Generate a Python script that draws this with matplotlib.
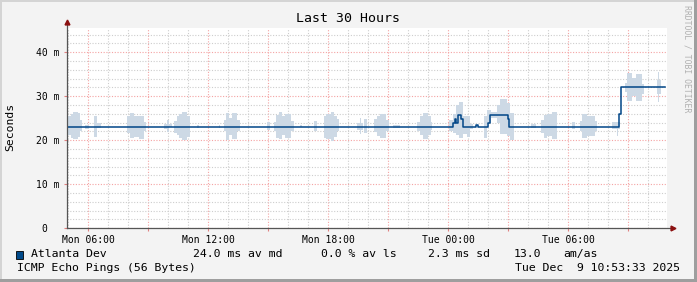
import matplotlib
matplotlib.use("Agg")
import matplotlib.pyplot as plt
import numpy as np
from matplotlib.ticker import MultipleLocator, FuncFormatter
from matplotlib.patches import Rectangle

plt.rcParams['font.family'] = ['DejaVu Sans Mono']

#-----------------------------------------
# data (hours since Mon 00:00, values in ms)
#-----------------------------------------
t_start = 4.92
t_end = 34.92

# median line (step, post)
line_t = [4.92, 24.25, 24.32, 24.40, 24.485, 24.62, 24.735, 25.385, 25.485,
          26.0, 26.07, 26.97, 27.05, 32.535, 32.635, 34.835]
line_v = [23.1, 24.0, 24.9, 24.0, 25.75, 24.8, 23.1, 23.4, 23.1,
          24.0, 25.75, 24.9, 23.1, 26.0, 32.0, 32.0]

# smoke: interval start, end, low, high
smoke_t0 = [4.92, 5.12, 5.25, 5.485, 5.585, 5.82, 6.285, 6.45,
            7.95, 8.07, 8.285, 8.535, 8.785, 9.785, 9.92, 10.035,
            10.285, 10.42, 10.535, 10.7, 10.92, 11.42, 12.535,
            12.785, 12.87, 13.035, 13.2, 13.45, 14.92,
            15.285, 15.37, 15.535, 15.7, 15.82, 16.12, 16.585, 17.285,
            17.785, 17.87, 18.12, 18.285, 18.42, 19.45, 19.585, 19.65,
            19.785, 20.285, 20.42, 20.585, 20.87, 21.25,
            22.45, 22.585, 22.75, 22.985, 23.12,
            24.035, 24.235, 24.385, 24.535, 24.735, 24.935, 25.085,
            25.785, 25.935, 26.135, 26.435, 26.585, 26.935, 27.085, 28.12,
            28.65, 28.785, 28.95, 29.2, 30.2,
            30.585, 30.7, 30.95, 31.15, 31.32, 32.2, 32.45, 32.5,
            32.82, 32.95, 33.2, 33.37, 33.7, 34.45, 34.485, 34.535]
smoke_t1 = [5.12, 5.25, 5.485, 5.585, 5.67, 6.035, 6.45, 6.65,
            8.07, 8.285, 8.535, 8.785, 8.9, 9.92, 10.035, 10.2,
            10.42, 10.535, 10.7, 10.92, 11.085, 11.52, 12.585,
            12.87, 13.035, 13.2, 13.45, 13.585, 15.085,
            15.37, 15.535, 15.7, 15.82, 16.12, 16.285, 16.685, 17.42,
            17.87, 18.12, 18.285, 18.42, 18.535, 19.585, 19.65, 19.72,
            19.92, 20.42, 20.585, 20.87, 21.035, 21.585,
            22.585, 22.75, 22.985, 23.12, 23.2,
            24.235, 24.385, 24.535, 24.735, 24.935, 25.085, 25.25,
            25.935, 26.135, 26.435, 26.585, 26.935, 27.085, 27.285, 28.37,
            28.785, 28.95, 29.2, 29.45, 30.32,
            30.7, 30.95, 31.15, 31.32, 31.42, 32.45, 32.5, 32.585,
            32.95, 33.2, 33.37, 33.7, 33.785, 34.485, 34.535, 34.62]
smoke_lo = [21.2, 20.6, 20.3, 20.8, 22.0, 22.5, 20.8, 22.7,
            21.6, 20.5, 20.8, 20.2, 22.0, 22.5, 21.8, 22.9,
            21.6, 21.2, 20.6, 20.1, 20.8, 22.7, 22.8,
            22.0, 20.1, 21.2, 20.2, 22.0, 22.3,
            22.0, 20.5, 20.2, 21.2, 20.5, 22.0, 22.9, 22.0,
            20.6, 20.2, 19.8, 20.8, 22.0, 22.3, 21.4, 22.3,
            21.6, 21.8, 21.0, 20.6, 22.0, 22.7,
            22.1, 21.2, 20.3, 21.2, 22.3,
            22.0, 21.6, 21.2, 20.6, 21.4, 20.8, 22.6,
            20.6, 24.0, 25.0, 24.0, 21.5, 21.0, 20.1, 22.7,
            21.6, 20.5, 21.0, 20.3, 22.6,
            22.0, 20.5, 21.0, 21.0, 22.0, 22.6, 21.0, 22.6,
            31.0, 28.9, 30.1, 28.9, 30.4, 30.4, 28.8, 30.4]
smoke_hi = [25.6, 26.0, 26.4, 26.1, 24.6, 23.5, 25.6, 23.9,
            25.4, 26.1, 25.6, 25.6, 24.2, 23.6, 24.6, 23.6,
            24.4, 25.4, 25.9, 26.4, 25.6, 23.4, 23.5,
            24.6, 26.1, 25.1, 26.1, 24.6, 24.1,
            24.2, 25.8, 26.4, 25.6, 26.0, 24.4, 23.4, 24.4,
            25.6, 26.0, 26.5, 25.6, 24.8, 23.9, 25.0, 23.9,
            24.8, 24.8, 25.4, 25.9, 24.6, 23.4,
            24.2, 25.4, 26.1, 25.4, 24.1,
            24.6, 25.9, 28.0, 28.8, 25.6, 25.4, 23.6,
            25.6, 26.8, 26.5, 28.0, 29.4, 28.5, 26.1, 23.6,
            24.6, 25.8, 25.9, 26.4, 24.1,
            24.4, 25.9, 25.4, 25.6, 24.4, 24.1, 24.1, 24.1,
            33.0, 35.3, 34.2, 35.0, 32.8, 33.7, 35.5, 33.7]

day_labels = {6: 'Mon 06:00', 12: 'Mon 12:00', 18: 'Mon 18:00',
              24: 'Tue 00:00', 30: 'Tue 06:00'}

W, H = 697, 282
fig = plt.figure(figsize=(W / 100, H / 100), dpi=100, facecolor='#f3f3f3')

# 3d frame
fig.patches.append(Rectangle((0, 1 - 2 / H), 1, 2 / H, transform=fig.transFigure, color='#d4d4d4', lw=0))
fig.patches.append(Rectangle((0, 0), 2 / W, 1, transform=fig.transFigure, color='#d4d4d4', lw=0))
fig.patches.append(Rectangle((1 - 3 / W, 0), 3 / W, 1, transform=fig.transFigure, color='#9e9e9e', lw=0))
fig.patches.append(Rectangle((0, 0), 1, 3 / H, transform=fig.transFigure, color='#9e9e9e', lw=0))

ax = fig.add_axes([66.7 / W, (H - 228.3) / H, 600 / W, 200.3 / H])
ax.set_facecolor('white')
ax.set_xlim(t_start, t_end)
ax.set_ylim(0, 45.5)

# smoke: join touching intervals into one polygon each (no seams)
xs, los, his = [], [], []
for i in range(len(smoke_t0)):
    if xs and abs(xs[-1] - smoke_t0[i]) > 1e-6:
        xs.append(np.nan); los.append(np.nan); his.append(np.nan)
    xs += [smoke_t0[i], smoke_t1[i]]
    los += [smoke_lo[i], smoke_lo[i]]
    his += [smoke_hi[i], smoke_hi[i]]
ax.fill_between(xs, los, his, facecolor='#cdd9e5', edgecolor='none', lw=0, zorder=2)
# median
ax.step(line_t, line_v, where='post', color='#004587', lw=1.1, zorder=3)

# grid
ax.xaxis.set_major_locator(MultipleLocator(3))
ax.xaxis.set_minor_locator(MultipleLocator(1))
ax.yaxis.set_major_locator(MultipleLocator(10))
ax.yaxis.set_minor_locator(MultipleLocator(2))
ax.set_axisbelow(True)
ax.grid(which='minor', color='#cdcdcd', ls=(0, (1, 1.5)), lw=0.8)
ax.grid(which='major', color='#f4a3a3', ls=(0, (1, 1.5)), lw=0.8)

ax.xaxis.set_major_formatter(FuncFormatter(lambda v, p: day_labels.get(int(round(v)), '')))
ax.yaxis.set_major_formatter(FuncFormatter(lambda v, p: '%d m' % v if v else '0  '))
ax.tick_params(axis='x', which='major', length=2, width=0.8, color='#e08080', pad=2.5, labelsize=7)
ax.tick_params(axis='y', which='major', length=2, width=0.8, color='#e08080', pad=3.4, labelsize=7)
ax.tick_params(which='minor', length=0)

for s in ['top', 'right', 'left', 'bottom']:
    ax.spines[s].set_visible(False)
ax.plot([0, 1.008], [0, 0], transform=ax.transAxes, color='#555555', lw=0.9, clip_on=False, zorder=5)
ax.plot([0, 0], [0, 1.025], transform=ax.transAxes, color='#555555', lw=0.9, clip_on=False, zorder=5)
ax.plot(1.01, 0, marker='>', ms=3.5, color='#8b1010', transform=ax.transAxes, clip_on=False, zorder=6)
ax.plot(0, 1.03, marker='^', ms=3.5, color='#8b1010', transform=ax.transAxes, clip_on=False, zorder=6)

# texts
fig.text(0.5, 1 - 19 / H, 'Last 30 Hours', fontsize=9.5, ha='center', va='center')
fig.text(10 / W, 1 - 127 / H, 'Seconds', fontsize=8.2, rotation=90, ha='center', va='center')
fig.text(687 / W, 1 - 59 / H, 'RRDTOOL / TOBI OETIKER', fontsize=5.9, rotation=270,
         ha='center', va='center', color='#b0b0b0')

fig.patches.append(Rectangle((16 / W, 1 - 258.5 / H), 7 / W, 8 / H, transform=fig.transFigure,
                             facecolor='#004a8a', edgecolor='black', lw=0.6))
ly = 1 - 254 / H
fs = 8.25
fig.text(30.7 / W, ly, 'Atlanta Dev', fontsize=fs, va='center')
fig.text(193.3 / W, ly, '24.0 ms av md', fontsize=fs, va='center')
fig.text(321 / W, ly, '0.0 % av ls', fontsize=fs, va='center')
fig.text(428.3 / W, ly, '2.3 ms sd', fontsize=fs, va='center')
fig.text(513.3 / W, ly, '13.0', fontsize=fs, va='center')
fig.text(563.3 / W, ly, 'am/as', fontsize=fs, va='center')
fig.text(16.7 / W, 1 - 268 / H, 'ICMP Echo Pings (56 Bytes)', fontsize=fs, va='center')
fig.text(680 / W, 1 - 268 / H, 'Tue Dec  9 10:53:33 2025', fontsize=fs, va='center', ha='right')

fig.savefig('out.png', dpi=100, facecolor=fig.get_facecolor())
